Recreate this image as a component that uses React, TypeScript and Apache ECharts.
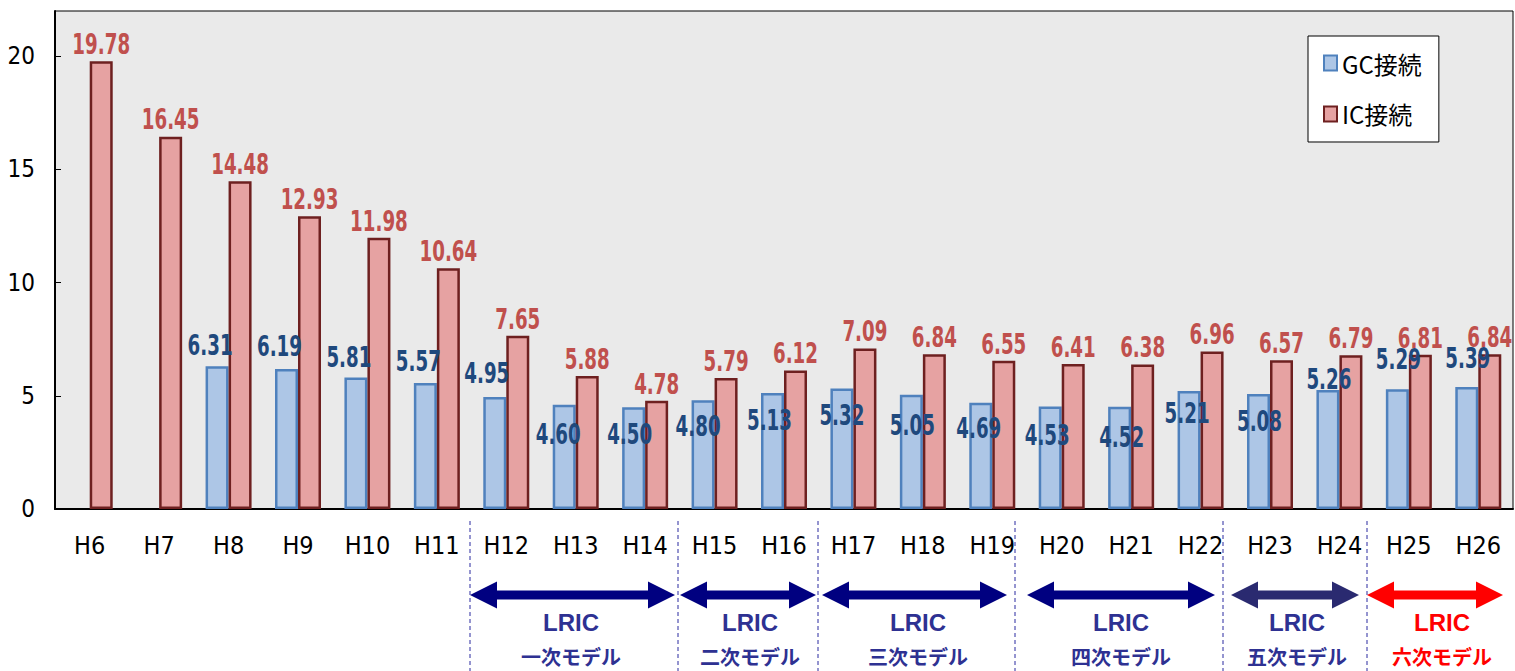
import React, { useEffect, useRef } from "react";
import * as echarts from "echarts";

const categories = ["H6","H7","H8","H9","H10","H11","H12","H13","H14","H15","H16","H17","H18","H19","H20","H21","H22","H23","H24","H25","H26"];
const gcValues: (number | null)[] = [null, null, 6.31, 6.19, 5.81, 5.57, 4.95, 4.60, 4.50, 4.80, 5.13, 5.32, 5.05, 4.69, 4.53, 4.52, 5.21, 5.08, 5.26, 5.29, 5.39];
const icValues: number[] = [19.78, 16.45, 14.48, 12.93, 11.98, 10.64, 7.65, 5.88, 4.78, 5.79, 6.12, 7.09, 6.84, 6.55, 6.41, 6.38, 6.96, 6.57, 6.79, 6.81, 6.84];
const seriesNames = ["GC接続", "IC接続"];
const yTicks = [0, 5, 10, 15, 20];

// label placement (style): centre of GC label relative to bar top, and horizontal shift
const gcLabelDy = [0, 0, -21, -23, -20, -22, -24, 29, 27, 26, 27, 27, 30, 25, 29, 30, 22, 27, -11, -30, -29];
const gcLabelDx = [0, 0, -7, -7, -7, -7, -8, -6, -4, -5, -3, 0, 1, -2, -3, 2, -2, 1, 1, 1, 1];

const models = [
  { name: "一次モデル", x1: 470, x2: 675, cx: 571, arrow: "#000080", text: "#2e3192" },
  { name: "二次モデル", x1: 680, x2: 816, cx: 750, arrow: "#000080", text: "#2e3192" },
  { name: "三次モデル", x1: 822, x2: 1007, cx: 918, arrow: "#000080", text: "#2e3192" },
  { name: "四次モデル", x1: 1027, x2: 1215, cx: 1121, arrow: "#000080", text: "#2e3192" },
  { name: "五次モデル", x1: 1231, x2: 1359, cx: 1297, arrow: "#2a2a70", text: "#2e3192" },
  { name: "六次モデル", x1: 1367, x2: 1503, cx: 1442, arrow: "#ff0000", text: "#ff0000" },
];
const dividers = [470, 678, 818, 1015, 1223, 1367];

const COND = "'DejaVu Sans Condensed', 'DejaVu Sans', sans-serif";
const BAR_W = 23;

function arrowPoints(x1: number, x2: number, y: number) {
  const L = 27, H = 13.5, t = 4.5;
  return [
    [x1, y], [x1 + L, y - H], [x1 + L, y - t], [x2 - L, y - t], [x2 - L, y - H],
    [x2, y], [x2 - L, y + H], [x2 - L, y + t], [x1 + L, y + t], [x1 + L, y + H],
  ];
}

function labelSeries(name: string, values: (number | null)[], side: number, color: string, isGc: boolean) {
  return {
    name,
    type: "custom",
    z: 6,
    silent: true,
    clip: false,
    data: values.map((v, i) => [i, v == null ? "-" : v]),
    renderItem: (params: any, api: any) => {
      const v = api.value(1);
      if (v == null || isNaN(v)) return null;
      const i = params.dataIndex;
      const p = api.coord([api.value(0), v]);
      const dx = isGc ? gcLabelDx[i] : 0;
      const dy = isGc ? gcLabelDy[i] : -17;
      return {
        type: "text",
        x: p[0] + side * (BAR_W / 2) + dx,
        y: p[1] + dy,
        scaleX: 0.7,
        style: {
          text: Number(v).toFixed(2),
          fill: color,
          font: "bold 29px " + COND,
          align: "center",
          verticalAlign: "middle",
        },
      };
    },
  };
}

export default function App() {
  const ref = useRef<HTMLDivElement>(null);
  useEffect(() => {
    if (!ref.current) return;
    const chart = echarts.init(ref.current, undefined, { renderer: "svg" });

    const graphics: any[] = [];
    dividers.forEach((x) => {
      graphics.push({
        type: "line",
        shape: { x1: x, y1: 521, x2: x, y2: 671 },
        style: { stroke: "#2b2ba0", lineWidth: 1, lineDash: [4, 3] },
        z: 10,
      });
    });
    models.forEach((m) => {
      graphics.push({
        type: "polygon",
        shape: { points: arrowPoints(m.x1, m.x2, 595) },
        style: { fill: m.arrow },
        z: 10,
      });
      graphics.push({
        type: "text",
        x: m.cx,
        y: 622,
        style: {
          text: "LRIC",
          fill: m.text,
          font: "bold 24px 'Liberation Sans', Arial, sans-serif",
          align: "center",
          verticalAlign: "middle",
        },
        z: 10,
      });
      graphics.push({
        type: "text",
        x: m.cx,
        y: 656,
        style: {
          text: m.name,
          fill: m.text,
          font: "bold 20px 'Noto Sans CJK JP', sans-serif",
          align: "center",
          verticalAlign: "middle",
        },
        z: 10,
      });
    });

    chart.setOption({
      animation: false,
      backgroundColor: "#ffffff",
      grid: {
        left: 55,
        right: 2,
        top: 11,
        bottom: 162,
        show: true,
        backgroundColor: "#eaeaea",
        borderColor: "#000",
        borderWidth: 1,
      },
      legend: {
        data: seriesNames,
        orient: "vertical",
        left: 1308,
        top: 36,
        padding: [15, 17, 16, 15],
        itemGap: 27,
        itemWidth: 13,
        itemHeight: 15,
        icon: "rect",
        backgroundColor: "#ffffff",
        borderColor: "#000",
        borderWidth: 1,
        textStyle: { fontSize: 24, color: "#000", fontFamily: "'Noto Sans CJK JP', sans-serif" },
      },
      xAxis: {
        type: "category",
        data: categories,
        axisLine: { lineStyle: { color: "#000", width: 2 } },
        axisTick: { inside: true, length: 5, lineStyle: { color: "#000", width: 1 } },
        axisLabel: { fontSize: 25, color: "#000", fontFamily: COND, margin: 24 },
        splitLine: { show: false },
      },
      yAxis: {
        type: "value",
        min: 0,
        max: 22,
        interval: 5,
        axisLine: { show: true, lineStyle: { color: "#000", width: 2 } },
        axisTick: { show: true, inside: true, length: 6, lineStyle: { color: "#000" } },
        axisLabel: {
          fontSize: 24,
          color: "#000",
          fontFamily: COND,
          margin: 20,
          showMaxLabel: false,
          formatter: (v: number) => (yTicks.includes(v) ? String(v) : ""),
        },
        splitLine: { show: false },
      },
      series: [
        {
          name: seriesNames[0],
          type: "bar",
          data: gcValues.map((v) => (v == null ? "-" : v)),
          barWidth: BAR_W,
          barGap: "0%",
          itemStyle: { color: "#adc6e6", borderColor: "#4f81bd", borderWidth: 2.5 },
          z: 2,
        },
        {
          name: seriesNames[1],
          type: "bar",
          data: icValues,
          barWidth: BAR_W,
          barGap: "0%",
          itemStyle: { color: "#e6a2a2", borderColor: "#6e2020", borderWidth: 2.5 },
          z: 2,
        },
        labelSeries("IC値", icValues, 1, "#c0504d", false),
        labelSeries("GC値", gcValues, -1, "#1f497d", true),
      ],
      graphic: graphics,
    });
    return () => chart.dispose();
  }, []);
  return (
    <div
      ref={ref}
      style={{ position: "absolute", left: 0, top: 0, width: 1515, height: 671 }}
    />
  );
}
